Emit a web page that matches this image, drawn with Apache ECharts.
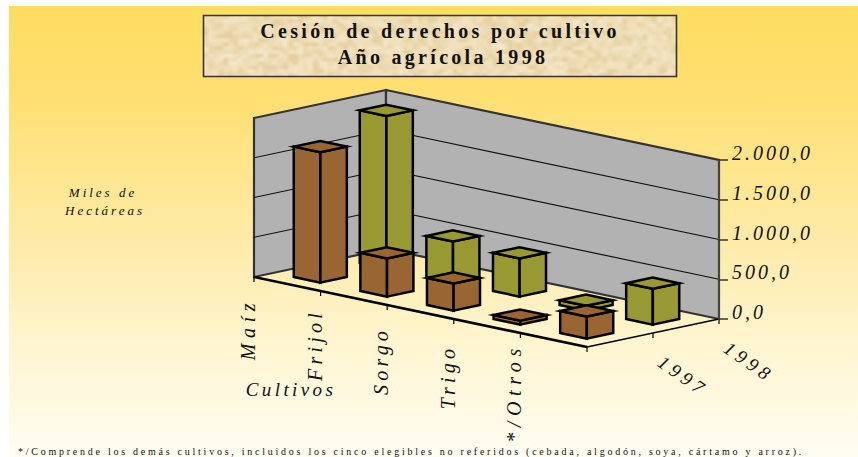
<!DOCTYPE html>
<html>
<head>
<meta charset="utf-8">
<style>html,body{margin:0;padding:0;background:#fff}#c{width:858px;height:457px}</style>
<script src="https://cdn.jsdelivr.net/npm/echarts@6/dist/echarts.min.js"></script>
</head>
<body>
<div id="c"></div>
<script>
// ---- data ----
const categories = ['Maíz', 'Frijol', 'Sorgo', 'Trigo', '*/Otros'];
const rows = ['1997', '1998'];
const values1997 = [1640, 480, 340, 50, 277];
const values1998 = [1920, 516, 480, 60, 450];
const yTicks = [0, 500, 1000, 1500, 2000];
const yTickLabels = ['0,0', '500,0', '1.000,0', '1.500,0', '2.000,0'];
const titleLines = ['Cesión de derechos por cultivo', 'Año agrícola 1998'];
const unitLines = ['Miles de', 'Hectáreas'];
const categoryAxisName = 'Cultivos';
const footnote = '*/Comprende los demás cultivos, incluidos los cinco elegibles no referidos (cebada, algodón, soya, cártamo y arroz).';

// ---- oblique projection of the floor ----
const depthX = 66, depthY = 14, slopeY = 14, floorDrop = 42, halfBar = 0.2;
const SERIF = '"Liberation Serif","Times New Roman",serif';
const BROWN = '#996633', OLIVE = '#999933', WALL = '#B2B2B2', INK = '#111';

function project(api, c, s, v) {
  const base = api.coord([0, 0]);
  const band = api.size([1, 0])[0];
  return [
    base[0] - band / 2 + c * band + s * depthX,
    api.coord([0, v])[1] - floorDrop + c * slopeY - s * depthY
  ];
}
const poly = (pts, style, extra) => Object.assign({
  type: 'polygon', shape: { points: pts },
  style: Object.assign({ lineJoin: 'miter', miterLimit: 9 }, style)
}, extra || {});
const line = (a, b, stroke, lineWidth) => ({
  type: 'line', shape: { x1: a[0], y1: a[1], x2: b[0], y2: b[1] },
  style: { stroke, lineWidth, fill: null }
});

function renderFrame(params, api) {
  const top = yTicks[yTicks.length - 1], n = categories.length, m = rows.length;
  const P = (c, s, v) => project(api, c, s, v);
  const ch = [];
  const wallStyle = { fill: WALL, stroke: '#333', lineWidth: 2.2 };
  ch.push(poly([P(0, 0, top), P(0, m, top), P(0, m, 0), P(0, 0, 0)], wallStyle));
  ch.push(poly([P(0, m, top), P(n, m, top), P(n, m, 0), P(0, m, 0)], wallStyle));
  yTicks.slice(1, -1).forEach(t => {
    ch.push(line(P(0, 0, t), P(0, m, t), '#111', 1.2));
    ch.push(line(P(0, m, t), P(n, m, t), '#111', 1.2));
  });
  ch.push(line(P(0, 0, 0), P(n, 0, 0), '#000', 2.6));
  ch.push(line(P(n, 0, 0), P(n, m, 0), '#000', 1.4));
  for (let c = 0; c <= n; c++) {
    const a = P(c, 0, 0);
    ch.push(line(a, [a[0], a[1] + 5], '#000', 1.2));
  }
  for (let s = 1; s <= m; s++) {
    const a = P(n, s, 0);
    ch.push(line(a, [a[0], a[1] + 5], '#000', 1.2));
    ch.push({
      type: 'text', x: a[0] + 30, y: a[1] + 43, rotation: -35 * Math.PI / 180,
      style: { text: rows[s - 1], font: 'italic 19px ' + SERIF, fill: INK, align: 'center', verticalAlign: 'middle' }
    });
  }
  categories.forEach((name, c) => {
    const a = P(c, 0, 0);
    ch.push({
      type: 'text', x: a[0] - 6, y: a[1] + 52 + c * 2, rotation: Math.PI / 2,
      style: { text: name, font: 'italic 20px ' + SERIF, fill: INK, align: 'center', verticalAlign: 'middle' }
    });
  });
  return { type: 'group', children: ch };
}

function barRenderer(rowIndex, color) {
  return function (params, api) {
    const c = api.value(0) + 0.5, s = rowIndex + 0.5, v = api.value(1), a = halfBar;
    const corner = (dc, ds, h) => project(api, c + dc, s + ds, h);
    const L0 = corner(-a, -a, 0), F0 = corner(a, -a, 0), R0 = corner(a, a, 0);
    const L1 = corner(-a, -a, v), F1 = corner(a, -a, v), R1 = corner(a, a, v), B1 = corner(-a, a, v);
    const st = { fill: color, stroke: '#000', lineWidth: 2.5 };
    return {
      type: 'group',
      children: [
        poly([L0, F0, F1, L1], st),
        poly([F0, R0, R1, F1], st),
        poly([L1, F1, R1, B1], st)
      ]
    };
  };
}

// ---- parchment texture of the title box (deterministic) ----
function parchment(w, h) {
  const small = document.createElement('canvas');
  const sw = Math.ceil(w / 5), sh = Math.ceil(h / 4);
  small.width = sw; small.height = sh;
  const g = small.getContext('2d');
  const tones = ['#EBD9AF', '#F2E3C0', '#E8D3A6', '#F0DFB8', '#EEDCB4', '#F4E7C8', '#E6CFA0', '#F1E1BC'];
  for (let y = 0; y < sh; y++) {
    for (let x = 0; x < sw; x++) {
      const k = Math.abs(Math.sin(x * 12.9898 + y * 78.233) * 43758.5453) % 1;
      g.fillStyle = tones[Math.floor(k * tones.length)];
      g.fillRect(x, y, 1, 1);
    }
  }
  const cv = document.createElement('canvas');
  cv.width = w; cv.height = h;
  const b = cv.getContext('2d');
  b.imageSmoothingEnabled = true;
  b.drawImage(small, 0, 0, w, h);
  return cv.toDataURL();
}

const txt = (text, x, y, font) => ({
  type: 'text', x, y, z: 5,
  style: { text, font, fill: INK, align: 'center', verticalAlign: 'middle' }
});

const option = {
  animation: false,
  backgroundColor: '#fff',
  grid: { left: 254, width: 333, top: 160, height: 159, containLabel: false },
  xAxis: { type: 'category', data: categories, show: false },
  yAxis: {
    type: 'value', min: 0, max: 2000, interval: 500, position: 'right', offset: 132, z: 10,
    axisLine: { show: true, lineStyle: { color: '#444', width: 2 } },
    axisTick: { show: true, length: 9, lineStyle: { color: '#333', width: 1.5 } },
    splitLine: { show: false },
    axisLabel: {
      margin: 13, color: INK, fontFamily: 'Liberation Serif', fontStyle: 'italic', fontSize: 20,
      verticalAlign: 'bottom', lineHeight: 14,
      formatter: v => yTickLabels[yTicks.indexOf(v)]
    }
  },
  graphic: [
    { type: 'rect', z: -10, shape: { x: 9, y: 6, width: 849, height: 451 }, style: {
      fill: new echarts.graphic.LinearGradient(0, 0, 0, 1, [
        { offset: 0, color: '#FFDD60' }, { offset: 0.2, color: '#FFDF72' },
        { offset: 0.5, color: '#FEEAA5' }, { offset: 0.75, color: '#FFF5D0' },
        { offset: 1, color: '#FFFDF3' }
      ]) } },
    { type: 'image', z: 1, style: { image: parchment(474, 62), x: 203, y: 15, width: 474, height: 62 } },
    { type: 'rect', z: 2, shape: { x: 203.5, y: 15.5, width: 473, height: 61 }, style: { fill: null, stroke: '#333', lineWidth: 1.6 } },
    txt(titleLines[0], 440, 31, 'bold 20px ' + SERIF),
    txt(titleLines[1], 443, 57, 'bold 20px ' + SERIF),
    txt(unitLines[0], 103, 192, 'italic 13px ' + SERIF),
    txt(unitLines[1], 105, 210, 'italic 13px ' + SERIF),
    txt(categoryAxisName, 291, 389, 'italic 19px ' + SERIF),
    txt(footnote, 411, 451, '10px ' + SERIF)
  ],
  series: [
    { type: 'custom', name: 'frame', silent: true, clip: false, data: [[0, 0]], renderItem: renderFrame },
    { type: 'custom', name: rows[1], silent: true, clip: false, renderItem: barRenderer(1, OLIVE), data: values1998.map((v, i) => [i, v]) },
    { type: 'custom', name: rows[0], silent: true, clip: false, renderItem: barRenderer(0, BROWN), data: values1997.map((v, i) => [i, v]) }
  ]
};

const chart = echarts.init(document.getElementById('c'), null, { renderer: 'svg', width: 858, height: 457 });
chart.setOption(option);

// ---- the wide letter spacing of the original ----
const spacing = { title: 3.3, tick: 3, cat: 4.2, catLong: 5.6, row: 4.5, unit: 3, axis: 3.4, foot: 2.75 };
function applySpacing() {
  document.querySelectorAll('#c text').forEach(t => {
    const s = t.textContent;
    let sp = spacing.tick;
    if (titleLines.includes(s)) sp = spacing.title;
    else if (categories.includes(s)) sp = (s === categories[0] || s === categories[4]) ? spacing.catLong : spacing.cat;
    else if (rows.includes(s)) sp = spacing.row;
    else if (unitLines.includes(s)) sp = spacing.unit;
    else if (s === categoryAxisName) sp = spacing.axis;
    else if (s === footnote) sp = spacing.foot;
    t.style.letterSpacing = sp + 'px';
  });
}
applySpacing();
chart.on('finished', applySpacing);
</script>
</body>
</html>
